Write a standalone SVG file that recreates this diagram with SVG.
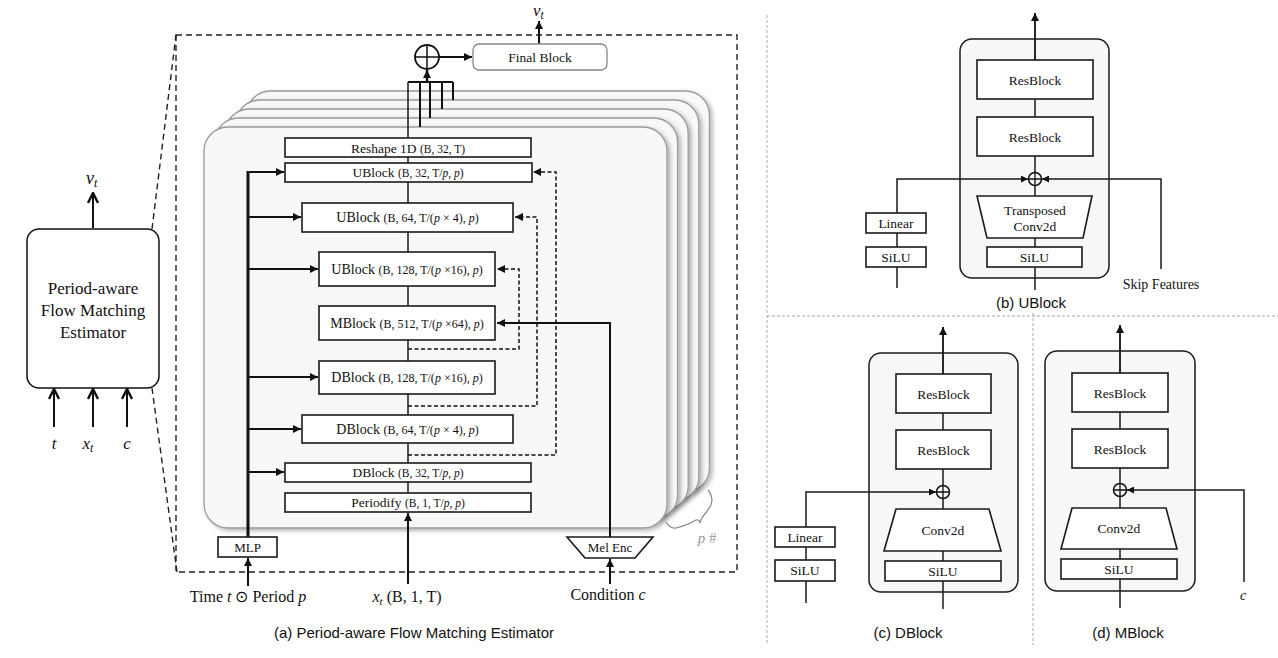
<svg xmlns="http://www.w3.org/2000/svg" width="1278" height="658" viewBox="0 0 1278 658">
<defs>
<style>
.blk{fill:#fff;stroke:#1a1a1a;stroke-width:1.6}
.card{fill:#f8f8f8;stroke:#9a9a9a;stroke-width:1.3}
.panel{fill:#f7f7f7;stroke:#1a1a1a;stroke-width:1.5}
.ln{stroke:#1a1a1a;stroke-width:1.5;fill:none}
.th{stroke:#111;stroke-width:2;fill:none}
.dsh{stroke:#111;stroke-width:1.5;stroke-dasharray:4 2.5;fill:none}
.frame{stroke:#222;stroke-width:1.4;stroke-dasharray:6 4;fill:none}
.sep{stroke:#aaa;stroke-width:1;stroke-dasharray:3 2;fill:none}
.serif{font-family:"Liberation Serif","Times New Roman",serif;fill:#111}
.sans{font-family:"Liberation Sans",Arial,sans-serif;fill:#111}
.it{font-style:italic}
.t135{font-size:13.5px}
.t14{font-size:14px}
.s115{font-size:11.5px}
.s12{font-size:12px}
</style>
<marker id="ah" viewBox="0 0 10 10" refX="10" refY="5" markerWidth="9" markerHeight="8" markerUnits="userSpaceOnUse" orient="auto"><path d="M0,0 L10,5 L0,10 z" fill="#111"/></marker>
<marker id="ahs" viewBox="0 0 10 10" refX="10" refY="5" markerWidth="8" markerHeight="7" markerUnits="userSpaceOnUse" orient="auto"><path d="M0,0 L10,5 L0,10 z" fill="#111"/></marker>
<marker id="aho" viewBox="0 0 12 12" refX="11" refY="6" markerWidth="12" markerHeight="12" markerUnits="userSpaceOnUse" orient="auto"><path d="M1,1 L11,6 L1,11" fill="none" stroke="#111" stroke-width="2.4"/></marker>
<filter id="sh" x="-5%" y="-5%" width="115%" height="115%"><feDropShadow dx="2.5" dy="2" stdDeviation="2" flood-color="#000" flood-opacity="0.3"/></filter>
</defs>
<rect width="1278" height="658" fill="#fff"/>

<g id="separators">
<line class="sep" x1="767" y1="15" x2="767" y2="645"/>
<line class="sep" x1="767" y1="316" x2="1278" y2="316"/>
<line class="sep" x1="1033" y1="313" x2="1033" y2="645"/>
</g>

<g id="estimator-overview">
<rect x="27" y="229" width="132" height="159" rx="12" fill="#fff" stroke="#111" stroke-width="1.5"/>
<text class="serif" font-size="17" text-anchor="middle"><tspan x="93" y="294">Period-aware</tspan><tspan x="93" y="316">Flow Matching</tspan><tspan x="93" y="338">Estimator</tspan></text>
<line class="th" x1="93" y1="228" x2="93" y2="193" marker-end="url(#aho)"/>
<text class="serif it" font-size="18" x="86" y="184">v<tspan font-size="12" dy="3">t</tspan></text>
<line class="th" x1="54" y1="427" x2="54" y2="389" marker-end="url(#aho)"/>
<line class="th" x1="93" y1="427" x2="93" y2="389" marker-end="url(#aho)"/>
<line class="th" x1="127" y1="427" x2="127" y2="389" marker-end="url(#aho)"/>
<text class="serif it" font-size="17" x="54" y="449" text-anchor="middle">t</text>
<text class="serif it" font-size="17" x="88" y="449" text-anchor="middle">x<tspan font-size="12" dy="3">t</tspan></text>
<text class="serif it" font-size="17" x="127" y="449" text-anchor="middle">c</text>
<line class="frame" x1="152" y1="229" x2="176" y2="35"/>
<line class="frame" x1="152" y1="388" x2="177" y2="572"/>
</g>

<g id="frame-a">
<rect class="frame" x="176" y="35" width="561" height="537"/>
</g>

<g id="period-cards">
<rect class="card" filter="url(#sh)" x="246.4" y="91" width="463" height="401" rx="24"/>
<rect class="card" filter="url(#sh)" x="235.8" y="100" width="463" height="401" rx="24"/>
<rect class="card" filter="url(#sh)" x="225.2" y="109" width="463" height="401" rx="24"/>
<rect class="card" filter="url(#sh)" x="214.6" y="118" width="463" height="401" rx="24"/>
<rect class="card" filter="url(#sh)" x="204" y="127" width="463" height="401" rx="24"/>
<path d="M666,522 Q670,529 676,528 Q688,525 696,520 Q699,519 700,523 Q701,518 704,515 Q712,506 712,500 Q711,493 708,490" fill="none" stroke="#888" stroke-width="1.2"/>
<text class="serif" font-size="15" style="fill:#9a9a9a" x="707" y="543" text-anchor="middle"><tspan class="it">p</tspan> #</text>
</g>

<g id="connectors-a">
<line class="ln" x1="408" y1="82" x2="408" y2="512"/>
<path class="th" d="M408,82 H453 M420,82 V127 M430,82 V118 M442,82 V109 M453,82 V100"/>
<line x1="427" y1="82" x2="427" y2="70" stroke="#111" stroke-width="2.5" marker-end="url(#ah)"/>
<line class="th" x1="439" y1="57" x2="472" y2="57" marker-end="url(#ah)"/>
<line x1="539" y1="44" x2="539" y2="21" stroke="#111" stroke-width="2" marker-end="url(#ah)"/>
<line x1="248" y1="537" x2="248" y2="171" stroke="#111" stroke-width="3"/>
<line class="th" x1="247" y1="172" x2="284" y2="172" marker-end="url(#ah)"/>
<line class="th" x1="248" y1="217" x2="301" y2="217" marker-end="url(#ah)"/>
<line class="th" x1="248" y1="269" x2="318" y2="269" marker-end="url(#ah)"/>
<line class="th" x1="248" y1="377" x2="318" y2="377" marker-end="url(#ah)"/>
<line class="th" x1="248" y1="429" x2="301" y2="429" marker-end="url(#ah)"/>
<line class="th" x1="248" y1="472" x2="284" y2="472" marker-end="url(#ah)"/>
<path class="dsh" d="M408,349 H519 V269 H497" marker-end="url(#ah)"/>
<path class="dsh" d="M408,406 H537 V217 H515" marker-end="url(#ah)"/>
<path class="dsh" d="M408,455 H556 V172 H533" marker-end="url(#ah)"/>
<path class="th" d="M610,537 V323 H497" marker-end="url(#ah)"/>
<line class="th" x1="248" y1="586" x2="248" y2="558" marker-end="url(#ah)"/>
<line class="th" x1="408" y1="584" x2="408" y2="513" marker-end="url(#ah)"/>
<line class="th" x1="610" y1="584" x2="610" y2="559" marker-end="url(#ah)"/>
</g>

<g id="sum-a">
<circle cx="427" cy="57" r="12" fill="#fff" stroke="#111" stroke-width="1.8"/>
<path d="M415,57 H439 M427,45 V69" stroke="#111" stroke-width="1.5"/>
</g>
<g id="final-block">
<rect x="473" y="44" width="134" height="26" rx="6" fill="#fff" stroke="#888" stroke-width="1.3"/>
<text class="serif t135" x="540" y="61.5" text-anchor="middle">Final Block</text>
</g>
<text class="serif it" font-size="17" x="533" y="16">v<tspan font-size="11.5" dy="3">t</tspan></text>

<g id="reshape">
<rect class="blk" x="285" y="138" width="246" height="19"/>
<text class="serif" font-size="13.5" x="408" y="152.5" text-anchor="middle">Reshape 1D <tspan class="s115">(B, 32, T)</tspan></text>
</g>
<g id="ublock32">
<rect class="blk" x="285" y="163" width="247" height="19"/>
<text class="serif" font-size="13.5" x="408" y="177" text-anchor="middle">UBlock <tspan class="s115">(B, 32, T/<tspan class="it">p</tspan>, <tspan class="it">p</tspan>)</tspan></text>
</g>
<g id="ublock64">
<rect class="blk" x="302" y="203" width="211" height="29"/>
<text class="serif t14" x="407.5" y="222" text-anchor="middle">UBlock <tspan class="s12">(B, 64, T/(<tspan class="it">p</tspan> × 4), <tspan class="it">p</tspan>)</tspan></text>
</g>
<g id="ublock128">
<rect class="blk" x="319" y="252" width="176" height="34"/>
<text class="serif t14" x="407" y="274" text-anchor="middle">UBlock <tspan class="s12">(B, 128, T/(<tspan class="it">p</tspan> ×16), <tspan class="it">p</tspan>)</tspan></text>
</g>
<g id="mblock">
<rect class="blk" x="319" y="306" width="176" height="34"/>
<text class="serif t14" x="407" y="328" text-anchor="middle">MBlock <tspan class="s12">(B, 512, T/(<tspan class="it">p</tspan> ×64), <tspan class="it">p</tspan>)</tspan></text>
</g>
<g id="dblock128">
<rect class="blk" x="319" y="361" width="176" height="33"/>
<text class="serif t14" x="407" y="382" text-anchor="middle">DBlock <tspan class="s12">(B, 128, T/(<tspan class="it">p</tspan> ×16), <tspan class="it">p</tspan>)</tspan></text>
</g>
<g id="dblock64">
<rect class="blk" x="302" y="415" width="211" height="28"/>
<text class="serif t14" x="407.5" y="434" text-anchor="middle">DBlock <tspan class="s12">(B, 64, T/(<tspan class="it">p</tspan> × 4), <tspan class="it">p</tspan>)</tspan></text>
</g>
<g id="dblock32">
<rect class="blk" x="285" y="463" width="246" height="19"/>
<text class="serif" font-size="13.5" x="408" y="477" text-anchor="middle">DBlock <tspan class="s115">(B, 32, T/<tspan class="it">p</tspan>, <tspan class="it">p</tspan>)</tspan></text>
</g>
<g id="periodify">
<rect class="blk" x="285" y="493" width="246" height="19"/>
<text class="serif" font-size="13.5" x="408" y="507" text-anchor="middle">Periodify <tspan class="s115">(B, 1, T/<tspan class="it">p</tspan>, <tspan class="it">p</tspan>)</tspan></text>
</g>
<g id="mlp">
<rect class="blk" x="218" y="537" width="59" height="20"/>
<text class="serif" font-size="13" x="247.5" y="551.5" text-anchor="middle">MLP</text>
</g>
<g id="mel-enc">
<path class="blk" d="M567,537 L653,537 L635,558 L585,558 Z"/>
<text class="serif" font-size="13" x="610" y="552" text-anchor="middle">Mel Enc</text>
</g>
<g id="inputs-a">
<text class="serif" font-size="16" x="248" y="602" text-anchor="middle">Time <tspan class="it">t</tspan> ⊙ Period <tspan class="it">p</tspan></text>
<text class="serif" font-size="16" x="407" y="602" text-anchor="middle"><tspan class="it">x</tspan><tspan class="it" font-size="11" dy="3">t</tspan><tspan dy="-3"> (B, 1, T)</tspan></text>
<text class="serif" font-size="16" x="608" y="600" text-anchor="middle">Condition <tspan class="it">c</tspan></text>
</g>
<text class="sans" font-size="15" x="414" y="638" text-anchor="middle">(a) Period-aware Flow Matching Estimator</text>

<g id="ublock-detail">
<rect class="panel" x="960" y="39" width="149" height="239" rx="12"/>
<g id="connectors-b">
<line class="ln" x1="1035" y1="290" x2="1035" y2="60"/>
<line x1="1035" y1="60" x2="1035" y2="13" stroke="#111" stroke-width="1.8" marker-end="url(#ah)"/>
<path class="ln" d="M897,288 V179 H1028" marker-end="url(#ahs)"/>
<path class="ln" d="M1161,269 V179 H1042" marker-end="url(#ahs)"/>
</g>
<rect class="blk" x="977" y="60" width="116" height="39"/>
<text class="serif t135" x="1035" y="84.5" text-anchor="middle">ResBlock</text>
<rect class="blk" x="977" y="117" width="116" height="39"/>
<text class="serif t135" x="1035" y="141.5" text-anchor="middle">ResBlock</text>
<circle cx="1035" cy="179" r="6.5" fill="#f7f7f7" stroke="#111" stroke-width="1.5"/>
<path d="M1028.5,179 H1041.5 M1035,172.5 V185.5" stroke="#111" stroke-width="1.3"/>
<path class="blk" d="M977,196 L1092,196 L1083,238 L987,238 Z"/>
<text class="serif t135" text-anchor="middle"><tspan x="1035" y="214.5">Transposed</tspan><tspan x="1035" y="230.5">Conv2d</tspan></text>
<rect class="blk" x="987" y="247" width="95" height="20"/>
<text class="serif t135" x="1034.5" y="261.5" text-anchor="middle">SiLU</text>
<rect class="blk" x="866" y="213" width="60" height="20"/>
<text class="serif t135" x="896" y="227.5" text-anchor="middle">Linear</text>
<rect class="blk" x="866" y="247" width="60" height="20"/>
<text class="serif t135" x="896" y="261.5" text-anchor="middle">SiLU</text>
<text class="serif t14" x="1161" y="289" text-anchor="middle">Skip Features</text>
<text class="sans" font-size="15" x="1031" y="308" text-anchor="middle">(b) UBlock</text>
</g>

<g id="dblock-detail">
<rect class="panel" x="869" y="353" width="149" height="239" rx="12"/>
<g id="connectors-c">
<line class="ln" x1="943" y1="609" x2="943" y2="374"/>
<line x1="943" y1="374" x2="943" y2="327" stroke="#111" stroke-width="1.8" marker-end="url(#ah)"/>
<path class="ln" d="M806,603 V492 H936" marker-end="url(#ahs)"/>
</g>
<rect class="blk" x="896" y="374" width="95" height="39"/>
<text class="serif t135" x="943.5" y="398.5" text-anchor="middle">ResBlock</text>
<rect class="blk" x="896" y="430" width="95" height="39"/>
<text class="serif t135" x="943.5" y="454.5" text-anchor="middle">ResBlock</text>
<circle cx="943" cy="492" r="6.5" fill="#f7f7f7" stroke="#111" stroke-width="1.5"/>
<path d="M936.5,492 H949.5 M943,485.5 V498.5" stroke="#111" stroke-width="1.3"/>
<path class="blk" d="M896,509 L989,509 L1001,551 L884,551 Z"/>
<text class="serif t135" x="943" y="535" text-anchor="middle">Conv2d</text>
<rect class="blk" x="885" y="561" width="116" height="20"/>
<text class="serif t135" x="943" y="575.5" text-anchor="middle">SiLU</text>
<rect class="blk" x="775" y="527" width="60" height="20"/>
<text class="serif t135" x="805" y="541.5" text-anchor="middle">Linear</text>
<rect class="blk" x="775" y="560" width="60" height="21"/>
<text class="serif t135" x="805" y="575" text-anchor="middle">SiLU</text>
<text class="sans" font-size="15" x="908" y="638" text-anchor="middle">(c) DBlock</text>
</g>

<g id="mblock-detail">
<rect class="panel" x="1045" y="351" width="150" height="240" rx="12"/>
<g id="connectors-d">
<line class="ln" x1="1120" y1="608" x2="1120" y2="373"/>
<line x1="1120" y1="373" x2="1120" y2="325" stroke="#111" stroke-width="1.8" marker-end="url(#ah)"/>
<path class="ln" d="M1244,582 V490 H1127" marker-end="url(#ahs)"/>
</g>
<rect class="blk" x="1072" y="373" width="96" height="39"/>
<text class="serif t135" x="1120" y="397.5" text-anchor="middle">ResBlock</text>
<rect class="blk" x="1072" y="429" width="96" height="39"/>
<text class="serif t135" x="1120" y="453.5" text-anchor="middle">ResBlock</text>
<circle cx="1120" cy="490" r="6.5" fill="#f7f7f7" stroke="#111" stroke-width="1.5"/>
<path d="M1113.5,490 H1126.5 M1120,483.5 V496.5" stroke="#111" stroke-width="1.3"/>
<path class="blk" d="M1072,508 L1166,508 L1177,549 L1061,549 Z"/>
<text class="serif t135" x="1119" y="533" text-anchor="middle">Conv2d</text>
<rect class="blk" x="1061" y="559" width="116" height="20"/>
<text class="serif t135" x="1119" y="573.5" text-anchor="middle">SiLU</text>
<text class="serif it" font-size="14" x="1243" y="600" text-anchor="middle">c</text>
<text class="sans" font-size="15" x="1128" y="638" text-anchor="middle">(d) MBlock</text>
</g>
</svg>
